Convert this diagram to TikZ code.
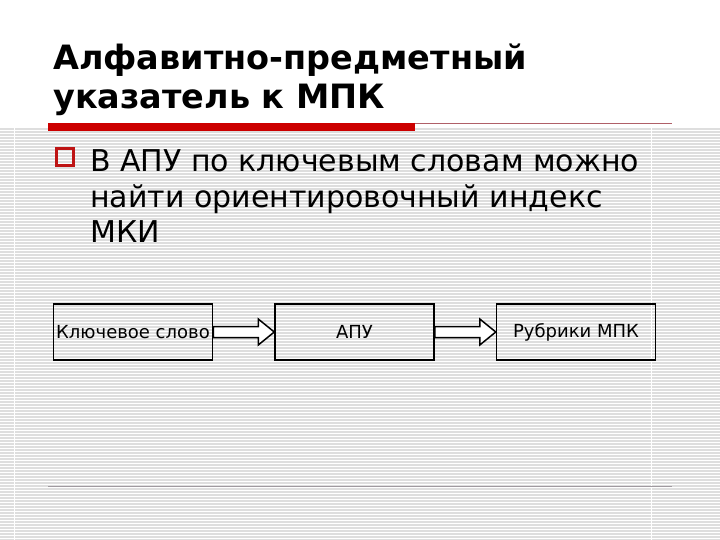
\documentclass[tikz,border=0pt]{standalone}
\usepackage{fontspec}
\setmainfont{DejaVu Sans}
\usetikzlibrary{calc}
\definecolor{stripegray}{RGB}{222,222,222}
\definecolor{barred}{RGB}{204,0,0}
\definecolor{thinred}{RGB}{176,96,104}
\definecolor{bulletred}{RGB}{190,20,20}
\definecolor{footgray}{RGB}{160,154,160}
\tikzset{
  stripe/.style={draw=stripegray, line width=1.7pt},
  gap/.style={draw=white, line width=1.4pt},
  flowbox/.style={draw=black, line width=1.5pt, minimum width=159pt, minimum height=56pt, inner sep=0pt, font=\fontsize{18}{21}\selectfont},
  blockarrow/.style={draw=black, fill=white, line width=1.5pt, line join=miter}
}
\begin{document}
\begin{tikzpicture}[x=1pt,y=1pt]
\useasboundingbox (0,0) rectangle (720,-540);
\fill[white] (0,0) rectangle (720,-540);
% striped background
\foreach \y in {129,132,...,540} {\draw[stripe] (0,-\y) -- (720,-\y);}
\draw[gap] (14.5,-127) -- (14.5,-540);
\draw[gap] (651.5,-127) -- (651.5,-540);
% title rule
\fill[barred] (48,-123.5) rectangle (415,-131.5);
\draw[thinred, line width=1pt] (415,-123.5) -- (672,-123.5);
% footer rule
\draw[footgray, line width=1pt] (48,-486) -- (672,-486);
% title
\node[anchor=base west, align=left, inner sep=0pt, font=\fontsize{33.5}{39.5}\selectfont\bfseries] (title) at (53,-109)
  {Алфавитно-предметный\\указатель к МПК};
% bullet
\node[draw=bulletred, line width=2.8pt, minimum size=17pt, inner sep=0pt] (bullet) at (65,-157) {};
% body text
\node[anchor=base west, align=left, inner sep=0pt, font=\fontsize{30}{35.5}\selectfont] (body) at (90,-243)
  {В АПУ по ключевым словам можно\\найти ориентировочный индекс\\МКИ};
% flow boxes
\node[flowbox] (kw) at (133,-332) {Ключевое слово};
\node[flowbox] (apu) at (354.5,-332) {АПУ};
\node[flowbox] (rub) at (576,-332) {Рубрики МПК};
% block arrows
\draw[blockarrow] ($(kw.east)+(0,5.5)$) -- ($(apu.west)+(-16,5.5)$) -- ($(apu.west)+(-16,13)$) -- (apu.west)
  -- ($(apu.west)+(-16,-13)$) -- ($(apu.west)+(-16,-5.5)$) -- ($(kw.east)+(0,-5.5)$) -- cycle;
\draw[blockarrow] ($(apu.east)+(0,5.5)$) -- ($(rub.west)+(-16,5.5)$) -- ($(rub.west)+(-16,13)$) -- (rub.west)
  -- ($(rub.west)+(-16,-13)$) -- ($(rub.west)+(-16,-5.5)$) -- ($(apu.east)+(0,-5.5)$) -- cycle;
\end{tikzpicture}
\end{document}
